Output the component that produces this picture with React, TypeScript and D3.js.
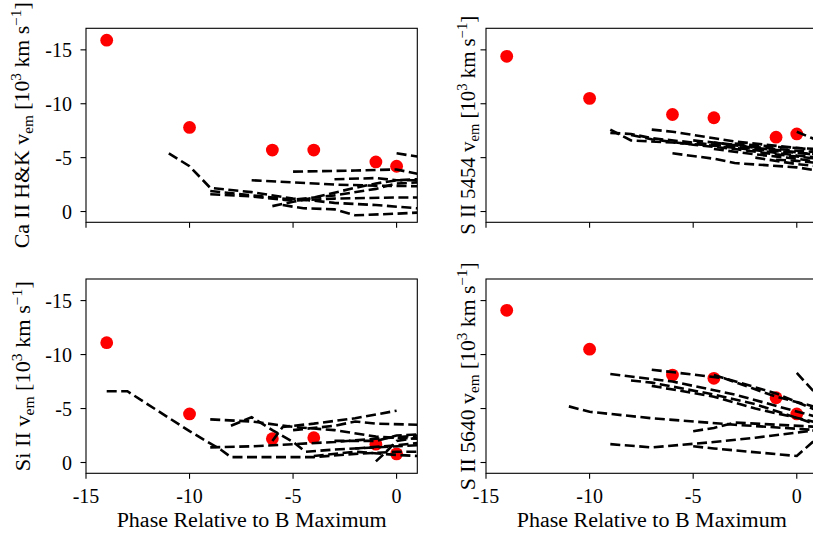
import React from 'react';
import * as d3 from 'd3';

// Observed emission velocities (10^3 km/s, plotted negative)
const phases = [-14, -10, -6, -4, -1, 0];
const caVel = [-15.9, -7.8, -5.7, -5.7, -4.6, -4.2];
const s5454Vel = [-14.4, -10.5, -9.0, -8.7, -6.9, -7.2];
const siVel = [-11.1, -4.5, -2.2, -2.3, -1.7, -0.8];
const s5640Vel = [-14.1, -10.5, -8.1, -7.8, -6.0, -4.5];

// Comparison tracks [phase, velocity]
const caModels: [number, number][][] = [
  [[-11, -5.4], [-10, -4.2], [-9, -2.2], [-7, -1.8], [-5, -1.2], [-3, -0.8], [-1, -0.6], [1, -0.3]],
  [[-9, -1.9], [-7, -1.5], [-5, -1.1], [-4, -1.3], [-3, -1.5], [-1, -2.1], [0, -2.6], [1, -2.7]],
  [[-9, -1.6], [-7, -1.4], [-5, -1.0], [-3, -1.2], [0, -1.3], [1, -1.3]],
  [[-7, -2.9], [-5, -2.7], [-3, -2.5], [-1, -2.4], [1, -2.35]],
  [[-5, -3.7], [-2, -3.8], [0, -3.9], [1, -3.5]],
  [[0, -5.4], [1, -5.1]],
  [[-6, -0.5], [-5, -0.9], [-4, -1.3], [-2, -2.2], [-1, -2.6], [0, -2.9], [1, -3.0]],
  [[-5.5, -0.6], [-4.5, -0.3], [-3, -0.2], [-2, 0.35], [0, 0.2], [1, 0.1]],
  [[-3, -3.0], [-1, -3.1], [0, -2.9], [1, -2.9]],
];

const s5454Models: [number, number][][] = [
  [[-9, -7.6], [-8, -6.6], [-6, -6.4], [-4, -6.1], [-2, -5.7], [0, -5.2], [1, -5.0]],
  [[-9, -7.3], [-8, -7.2], [-7, -6.8], [-5, -6.4], [-3, -6.0], [-1, -5.6], [1, -5.3]],
  [[-7, -7.6], [-6, -7.4], [-3, -6.5], [1, -5.7]],
  [[-8, -7.1], [-7, -6.7], [-5, -6.2], [-3, -5.8], [-1, -5.3], [1, -4.9]],
  [[-6, -5.4], [-4, -4.9], [-3, -4.5], [0, -4.1], [1, -3.8]],
  [[-3, -6.3], [-1, -6.0], [1, -5.8]],
  [[0, -7.4], [1, -6.6]],
  [[-4, -5.8], [-2, -5.3], [0, -4.9], [1, -4.6]],
  [[-2, -5.0], [0, -4.4], [1, -4.2]],
  [[-5, -6.6], [-3, -6.2], [-1, -5.8], [1, -5.5]],
  [[-4, -6.4], [-2, -5.9], [0, -5.5], [1, -5.2]],
  [[-1, -4.8], [0, -4.7], [1, -4.5]],
];

const siModels: [number, number][][] = [
  [[-14, -6.6], [-13, -6.6], [-10, -2.9], [-8.5, -1.2], [-8, -0.5], [-6, -0.5], [-4, -0.5], [-2, -0.8], [0, -1.0], [1, -1.0]],
  [[-9, -1.4], [-7, -1.5], [-5, -1.7], [-3, -1.9], [-1, -2.2], [1, -2.5]],
  [[-9, -4.0], [-7, -3.8], [-5, -3.3], [-3, -3.0], [-1, -2.4], [1, -2.2]],
  [[-8, -3.4], [-7, -4.2], [-6, -3.0], [-5, -1.9], [-4.4, -1.0], [-3, -1.2], [-1, -1.4], [1, -1.6]],
  [[-6, -2.0], [-5.5, -3.3], [-4, -3.6], [-2, -4.1], [0, -4.8]],
  [[-5, -3.0], [-3, -3.4], [-2, -3.8], [-1, -3.6], [1, -3.5]],
  [[-1, -0.1], [-0.5, -1.0], [0, -2.0], [1, -2.3]],
  [[-3, -2.0], [-1, -2.0], [0, -2.5], [1, -2.6]],
  [[-2, -1.3], [0, -1.6], [1, -1.8]],
  [[-4, -0.6], [-2, -1.0], [0, -0.7], [1, -0.6]],
];

const s5640Models: [number, number][][] = [
  [[-11, -5.2], [-10, -4.7], [-7, -4.1], [-3, -3.5], [1, -3.0]],
  [[-9, -1.7], [-7, -1.4], [-4, -1.9], [-2, -2.3], [1, -3.0]],
  [[-5, -2.9], [-4, -3.2], [-3, -3.7], [1, -3.3]],
  [[-5, -1.5], [-4, -1.3], [0, -0.6], [1, -2.3]],
  [[0, -8.3], [1, -6.2]],
  [[-9, -8.2], [-6, -7.5], [-3, -6.3], [1, -4.2]],
  [[-8, -7.6], [-7, -7.4], [-4, -6.3], [-2, -5.4], [1, -3.5]],
  [[-7, -8.6], [-3.5, -7.8], [-1, -6.1], [1, -5.1]],
  [[-7, -7.1], [-4, -6.1], [-2, -5.0], [1, -3.7]],
  [[-4, -8.1], [-1, -6.4], [1, -4.8]],
];

const xTicks = [-15, -10, -5, 0];
const yTicks = [0, -5, -10, -15];
const xLabel = 'Phase Relative to B Maximum';

type Panel = {
  id: string;
  species: string;
  vel: number[];
  models: [number, number][][];
  x0: number; x1: number; y0: number; y1: number;
  showYTickLabels: boolean;
  showXTickLabels: boolean;
  labelX: number;
  labelLen: number;
};

const panels: Panel[] = [
  { id: 'ca', species: 'Ca II H&K', vel: caVel, models: caModels, x0: 86, x1: 417.3, y0: 28.3, y1: 222.3, showYTickLabels: true, showXTickLabels: false, labelX: 29, labelLen: 246 },
  { id: 's54', species: 'S II 5454', vel: s5454Vel, models: s5454Models, x0: 486, x1: 817.5, y0: 28.3, y1: 222.3, showYTickLabels: false, showXTickLabels: false, labelX: 475, labelLen: 219 },
  { id: 'si', species: 'Si II', vel: siVel, models: siModels, x0: 86, x1: 417.3, y0: 279, y1: 473.3, showYTickLabels: true, showXTickLabels: true, labelX: 30, labelLen: 190 },
  { id: 's56', species: 'S II 5640', vel: s5640Vel, models: s5640Models, x0: 486, x1: 817.5, y0: 279, y1: 473.3, showYTickLabels: false, showXTickLabels: true, labelX: 475, labelLen: 228 },
];

const textStyle: React.CSSProperties = { fontFamily: "'Liberation Serif', 'DejaVu Serif', serif" };

function PanelView({ p }: { p: Panel }) {
  const x = d3.scaleLinear().domain([-15, 1]).range([p.x0, p.x1]);
  const y = d3.scaleLinear().domain([1, -17]).range([p.y1, p.y0]);
  const line = d3.line<[number, number]>().x(d => x(d[0])).y(d => y(d[1]));
  const clipId = `clip-${p.id}`;
  const cy = (p.y0 + p.y1) / 2;
  const tl = 5.5;
  return (
    <g>
      <defs>
        <clipPath id={clipId}>
          <rect x={p.x0} y={p.y0} width={p.x1 - p.x0} height={p.y1 - p.y0} />
        </clipPath>
      </defs>
      <g clipPath={`url(#${clipId})`}>
        {p.vel.map((v, i) => (
          <circle key={i} cx={x(phases[i])} cy={y(v)} r={6.4} fill="#ff0000" />
        ))}
        {p.models.map((m, i) => (
          <path key={i} d={line(m) || ''} fill="none" stroke="#000" strokeWidth={2.6} strokeDasharray="10,4.5" />
        ))}
      </g>
      <rect x={p.x0} y={p.y0} width={p.x1 - p.x0} height={p.y1 - p.y0} fill="none" stroke="#000" strokeWidth={1.1} />
      {xTicks.map(t => (
        <g key={`x${t}`}>
          <line x1={x(t)} x2={x(t)} y1={p.y1} y2={p.y1 + tl} stroke="#000" strokeWidth={1.1} />
          {p.showXTickLabels && (
            <text x={x(t)} y={p.y1 + 30} textAnchor="middle" fontSize={20} style={textStyle}>{String(t)}</text>
          )}
        </g>
      ))}
      {yTicks.map(t => (
        <g key={`y${t}`}>
          <line x1={p.x0 - tl} x2={p.x0} y1={y(t)} y2={y(t)} stroke="#000" strokeWidth={1.1} />
          {p.showYTickLabels && (
            <text x={p.x0 - 14} y={y(t)} dy="0.35em" textAnchor="end" fontSize={20} style={textStyle}>{String(t)}</text>
          )}
        </g>
      ))}
      {p.showXTickLabels && (
        <text x={(p.x0 + p.x1) / 2} y={p.y1 + 54} textAnchor="middle" fontSize={20} style={textStyle}
          textLength={270} lengthAdjust="spacingAndGlyphs">{xLabel}</text>
      )}
      <text transform={`translate(${p.labelX},${cy}) rotate(-90)`} textAnchor="middle" fontSize={20} style={textStyle}
        textLength={p.labelLen} lengthAdjust="spacingAndGlyphs">
        {p.species} v<tspan fontSize={14} dy={4}>em</tspan><tspan dy={-4}> [10</tspan><tspan fontSize={14} dy={-8}>3</tspan><tspan dy={8}> km s</tspan><tspan fontSize={14} dy={-8}>−1</tspan><tspan dy={8}>]</tspan>
      </text>
    </g>
  );
}

export default function App() {
  return (
    <div style={{ position: 'absolute', left: 0, top: 0, background: '#fff' }}>
      <svg width={813} height={535} style={{ display: 'block', background: '#fff' }}>
        <rect x={0} y={0} width={813} height={535} fill="#fff" />
        {panels.map(p => <PanelView key={p.id} p={p} />)}
      </svg>
    </div>
  );
}
